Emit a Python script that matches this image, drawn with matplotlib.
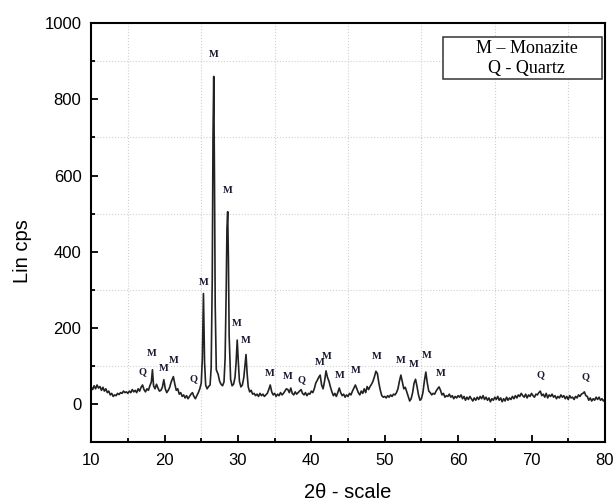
import numpy as np
import matplotlib.pyplot as plt
from matplotlib.ticker import MultipleLocator
from matplotlib.patches import Rectangle

# XRD-Diffraktogramm, Werte
two_theta = [
    10.0, 10.2, 10.4, 10.6, 10.8, 11.0, 11.2, 11.4, 11.6, 11.8,
    12.0, 12.2, 12.4, 12.6, 12.8, 13.0, 13.2, 13.4, 13.6, 13.8,
    14.0, 14.2, 14.4, 14.6, 14.8, 15.0, 15.2, 15.4, 15.6, 15.8,
    16.0, 16.2, 16.4, 16.6, 16.8, 17.0, 17.2, 17.4, 17.6, 17.8,
    18.0, 18.2, 18.35, 18.5, 18.7, 18.9, 19.1, 19.3, 19.5, 19.7, 19.9,
    20.1, 20.3, 20.5, 20.7, 20.9, 21.2, 21.4, 21.6, 21.8,
    22.0, 22.2, 22.4, 22.6, 22.8, 23.0, 23.2, 23.4, 23.6, 23.8,
    24.0, 24.2, 24.4, 24.6, 24.8, 25.0, 25.15, 25.3, 25.45, 25.6, 25.8,
    26.0, 26.2, 26.35, 26.5, 26.6, 26.7, 26.8, 26.9, 27.05, 27.3, 27.5, 27.7, 27.9,
    28.1, 28.25, 28.4, 28.5, 28.6, 28.7, 28.8, 29.0, 29.2, 29.4, 29.6, 29.75, 29.9,
    30.05, 30.2, 30.4, 30.6, 30.8, 30.95, 31.1, 31.25, 31.4, 31.6, 31.8,
    32.0, 32.2, 32.4, 32.6, 32.8, 33.0, 33.2, 33.4, 33.6, 33.8,
    34.0, 34.2, 34.4, 34.6, 34.8, 35.0, 35.2, 35.4, 35.6, 35.8,
    36.0, 36.2, 36.4, 36.6, 36.8, 37.0, 37.2, 37.4, 37.6, 37.8,
    38.0, 38.2, 38.4, 38.6, 38.8, 39.0, 39.2, 39.4, 39.6, 39.8,
    40.0, 40.2, 40.4, 40.6, 40.8, 41.0, 41.2, 41.4, 41.6, 41.8, 42.0,
    42.2, 42.4, 42.6, 42.8, 43.0, 43.2, 43.4, 43.6, 43.8,
    44.0, 44.2, 44.4, 44.6, 44.8, 45.0, 45.2, 45.4, 45.6, 45.8,
    46.0, 46.2, 46.4, 46.6, 46.8, 47.0, 47.2, 47.4, 47.6, 47.8,
    48.0, 48.2, 48.4, 48.6, 48.8, 49.0, 49.2, 49.4, 49.6, 49.8,
    50.0, 50.2, 50.4, 50.6, 50.8, 51.0, 51.2, 51.4, 51.6, 51.8,
    52.0, 52.2, 52.4, 52.6, 52.8, 53.0, 53.2, 53.4, 53.6, 53.8,
    54.0, 54.2, 54.4, 54.6, 54.8, 55.0, 55.2, 55.4, 55.6, 55.8,
    56.0, 56.2, 56.4, 56.6, 56.8, 57.0, 57.2, 57.4, 57.6, 57.8,
    58.0, 58.2, 58.4, 58.6, 58.8, 59.0, 59.2, 59.4, 59.6, 59.8,
    60.0, 60.2, 60.4, 60.6, 60.8, 61.0, 61.2, 61.4, 61.6, 61.8,
    62.0, 62.2, 62.4, 62.6, 62.8, 63.0, 63.2, 63.4, 63.6, 63.8,
    64.0, 64.2, 64.4, 64.6, 64.8, 65.0, 65.2, 65.4, 65.6, 65.8,
    66.0, 66.2, 66.4, 66.6, 66.8, 67.0, 67.2, 67.4, 67.6, 67.8,
    68.0, 68.2, 68.4, 68.6, 68.8, 69.0, 69.2, 69.4, 69.6, 69.8,
    70.0, 70.2, 70.4, 70.6, 70.8, 71.0, 71.2, 71.4, 71.6, 71.8,
    72.0, 72.2, 72.4, 72.6, 72.8, 73.0, 73.2, 73.4, 73.6, 73.8,
    74.0, 74.2, 74.4, 74.6, 74.8, 75.0, 75.2, 75.4, 75.6, 75.8,
    76.0, 76.2, 76.4, 76.6, 76.8, 77.0, 77.2, 77.4, 77.6, 77.8,
    78.0, 78.2, 78.4, 78.6, 78.8, 79.0, 79.2, 79.4, 79.6, 79.8, 80.0,
]
lin_cps = [
    45, 38, 48, 40, 50, 42, 46, 36, 44, 34,
    40, 30, 34, 24, 28, 20, 24, 22, 28, 25,
    30, 28, 34, 30, 32, 28, 34, 30, 38, 32,
    36, 30, 40, 34, 44, 50, 38, 32, 40, 36,
    48, 58, 90, 48, 40, 52, 42, 34, 36, 44, 64,
    40, 30, 36, 44, 58, 72, 52, 36, 40,
    26, 30, 20, 24, 16, 22, 14, 20, 26, 30,
    20, 14, 22, 30, 40, 55, 120, 290, 110, 50, 40,
    46, 50, 95, 330, 700, 860, 600, 260, 90, 78, 60, 52, 48,
    58, 120, 300, 460, 505, 380, 180, 65, 48, 52, 70, 110, 168,
    110, 60, 45, 50, 70, 100, 130, 80, 45, 32, 36,
    26, 28, 22, 26, 20, 28, 22, 26, 20, 24,
    28, 38, 50, 32, 24, 28, 20, 26, 22, 30,
    24, 28, 34, 40, 38, 30, 42, 28, 24, 32,
    26, 30, 34, 38, 28, 24, 30, 22, 28, 26,
    34, 30, 40, 55, 62, 70, 76, 50, 40, 60, 87,
    70, 60, 45, 32, 22, 28, 20, 30, 42,
    30, 22, 26, 18, 24, 20, 28, 24, 34, 42,
    50, 40, 30, 24, 34, 28, 40, 30, 46, 38,
    46, 52, 60, 72, 86, 80, 55, 36, 22, 18,
    20, 16, 22, 18, 24, 20, 26, 24, 30, 40,
    60, 76, 58, 40, 44, 32, 20, 8, 14, 30,
    55, 65, 46, 24, 10, 14, 30, 60, 84, 55,
    34, 30, 24, 28, 26, 34, 40, 45, 36, 24,
    28, 18, 22, 20, 26, 18, 22, 14, 20, 16,
    22, 18, 24, 14, 20, 10, 18, 12, 20, 14,
    8, 16, 10, 18, 12, 20, 14, 22, 12, 18,
    10, 16, 6, 14, 10, 18, 12, 20, 10, 16,
    6, 14, 8, 18, 10, 16, 12, 20, 14, 22,
    16, 24, 20, 28, 22, 18, 26, 16, 24, 20,
    28, 22, 18, 26, 24, 30, 34, 22, 26, 18,
    28, 16, 24, 20, 26, 18, 22, 14, 20, 16,
    24, 18, 22, 14, 20, 12, 22, 16, 18, 12,
    20, 16, 24, 20, 26, 28, 32, 22, 20, 10,
    16, 8, 14, 10, 18, 12, 18, 10, 14, 8, 12,
]

# Peak-Beschriftungen (M = Monazit, Q = Quarz)
peak_labels = ['Q', 'M', 'M', 'M', 'Q', 'M', 'M', 'M', 'M', 'M', 'M', 'M',
               'Q', 'M', 'M', 'M', 'M', 'M', 'M', 'M', 'M', 'M', 'Q', 'Q']
peak_x = [17.0, 18.3, 19.9, 21.2, 23.9, 25.3, 26.7, 28.6, 29.9, 31.1, 34.4, 36.8,
          38.6, 41.1, 42.1, 43.9, 46.1, 48.9, 52.2, 54.0, 55.7, 57.6, 71.2, 77.4]
peak_y = [73, 121, 81, 102, 55, 307, 905, 549, 200, 155, 68, 60,
          52, 97, 113, 63, 76, 113, 102, 92, 115, 68, 66, 60]

fig = plt.figure(figsize=(6.16, 5.03), dpi=100)
ax = fig.add_axes([0.148, 0.121, 0.834, 0.833])

ax.plot(two_theta, lin_cps, color='#222222', lw=1.2)

for t, x, y in zip(peak_labels, peak_x, peak_y):
    ax.text(x, y, t, ha='center', va='bottom', fontsize=7.5, fontweight='bold',
            family='Liberation Serif', color='#1a1a30')

ax.set_xlim(10, 80)
ax.set_ylim(-100, 1000)
ax.xaxis.set_major_locator(MultipleLocator(10))
ax.xaxis.set_minor_locator(MultipleLocator(5))
ax.yaxis.set_major_locator(MultipleLocator(200))
ax.yaxis.set_minor_locator(MultipleLocator(100))
ax.grid(which='minor', color='#d0d0d0', ls=':', lw=0.8)

ax.tick_params(which='both', direction='in', width=1.3, labelsize=12)
ax.tick_params(which='major', length=5)
ax.tick_params(which='minor', length=3)
ax.tick_params(axis='x', pad=8)
ax.tick_params(axis='y', pad=7)
for sp in ax.spines.values():
    sp.set_linewidth(1.5)
for lab in ax.get_xticklabels() + ax.get_yticklabels():
    lab.set_family('Liberation Sans')

ax.set_xlabel('2θ - scale', fontsize=14.5, family='Liberation Sans')
ax.set_ylabel('Lin cps', fontsize=14.5, family='Liberation Sans')
ax.xaxis.set_label_coords(0.5, -0.097)
ax.yaxis.set_label_coords(-0.116, 0.455)

# Legendenkasten
ax.add_patch(Rectangle((0.685, 0.866), 0.309, 0.101, transform=ax.transAxes,
                       fc='white', ec='#333333', lw=1.1, zorder=3))
ax.text(0.848, 0.916, 'M – Monazite\nQ - Quartz', transform=ax.transAxes,
        ha='center', va='center', fontsize=13, family='Liberation Serif',
        linespacing=1.2, zorder=4)

fig.savefig('out.png', dpi=100)
